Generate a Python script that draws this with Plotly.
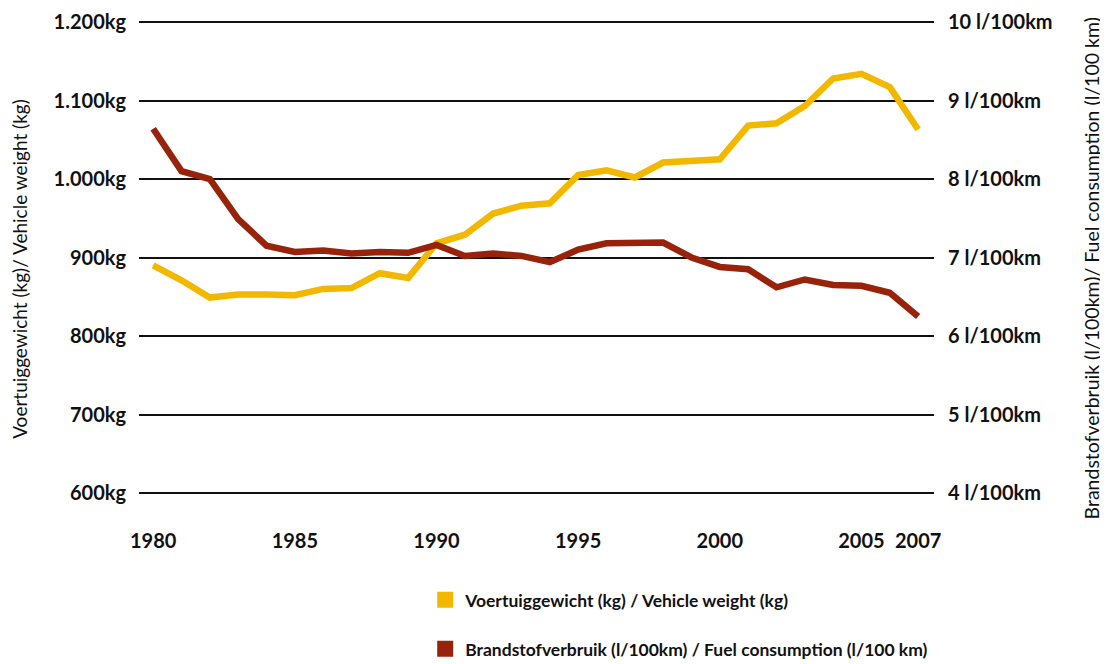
import plotly.graph_objects as go

years = list(range(1980, 2008))
vehicle_weight_kg = [890, 871, 849, 853, 853, 852, 860, 861, 880, 874,
                     918, 929, 956, 966, 969, 1005, 1011, 1002, 1021, 1022,
                     1025, 1068, 1071, 1093, 1128, 1134, 1117, 1063]
fuel_l_per_100km = [8.64, 8.10, 8.00, 7.49, 7.15, 7.07, 7.09, 7.05, 7.07, 7.06,
                    7.16, 7.02, 7.05, 7.02, 6.94, 7.10, 7.18, 7.19, 7.19, 7.00,
                    6.88, 6.85, 6.62, 6.72, 6.65, 6.64, 6.55, 6.25]

x_tickvals = [1980, 1985, 1990, 1995, 2000, 2005, 2007]
kg_tickvals = [600, 700, 800, 900, 1000, 1100, 1200]
kg_ticktext = ["600kg", "700kg", "800kg", "900kg", "1.000kg", "1.100kg", "1.200kg"]
l_tickvals = [4, 5, 6, 7, 8, 9, 10]
l_ticktext = ["4 l/100km", "5 l/100km", "6 l/100km", "7 l/100km", "8 l/100km", "9 l/100km", "10 l/100km"]

name_weight = "Voertuiggewicht (kg) / Vehicle weight (kg)"
name_fuel = "Brandstofverbruik (l/100km) / Fuel consumption (l/100 km)"
ytitle_left = "Voertuiggewicht (kg)/ Vehicle weight (kg)"
ytitle_right = "Brandstofverbruik (l/100km)/ Fuel consumption (l/100 km)"

YELLOW = "#F2B800"
RED = "#98230B"
FONT = "Lato"
INK = "#111111"

fig = go.Figure()
fig.add_trace(go.Scatter(x=years, y=vehicle_weight_kg, mode="lines",
                         line=dict(color=YELLOW, width=6.5), showlegend=False,
                         hoverinfo="x+y"))
fig.add_trace(go.Scatter(x=years, y=fuel_l_per_100km, mode="lines", yaxis="y2",
                         line=dict(color=RED, width=6.5), showlegend=False,
                         hoverinfo="x+y"))
# legend entries (square swatches)
fig.add_trace(go.Scatter(x=[None], y=[None], mode="markers", name=name_weight,
                         marker=dict(symbol="square", size=20, color=YELLOW),
                         legend="legend"))
fig.add_trace(go.Scatter(x=[None], y=[None], mode="markers", name=name_fuel,
                         marker=dict(symbol="square", size=20, color=RED),
                         legend="legend2"))

tickfont = dict(family=FONT, size=20, color=INK, weight="bold")
legfont = dict(family=FONT, size=17.5, color=INK, weight="bold")
titlefont = dict(family=FONT, size=19, color=INK)
titlefont_r = dict(family=FONT, size=19.5, color=INK)

pad_kg = 3.82
fig.update_layout(
    template="none",
    width=1100, height=656,
    margin=dict(l=131, r=174, t=11, b=168, pad=0, autoexpand=False),
    paper_bgcolor="white", plot_bgcolor="white",
    xaxis=dict(range=[1979.5, 2007.56], tickvals=x_tickvals,
               ticktext=[str(v) for v in x_tickvals], showgrid=False,
               zeroline=False, showline=False, ticks="", tickfont=tickfont,
               ticklabelstandoff=31, automargin=False),
    yaxis=dict(range=[600 - pad_kg, 1200 + pad_kg], tickvals=kg_tickvals,
               ticktext=kg_ticktext, showgrid=True, gridcolor=INK, gridwidth=2,
               zeroline=False, showline=False, ticks="", tickfont=tickfont,
               ticklabelstandoff=12, automargin=False),
    yaxis2=dict(range=[4 - pad_kg / 100, 10 + pad_kg / 100], tickvals=l_tickvals,
                ticktext=l_ticktext, overlaying="y", side="right", showgrid=False,
                zeroline=False, showline=False, ticks="", tickfont=tickfont,
                ticklabelstandoff=13, automargin=False),
    legend=dict(x=0.36, y=-0.180, xanchor="left", yanchor="top", font=legfont,
                bgcolor="rgba(0,0,0,0)", borderwidth=0),
    legend2=dict(x=0.36, y=-0.283, xanchor="left", yanchor="top", font=legfont,
                 bgcolor="rgba(0,0,0,0)", borderwidth=0),
    annotations=[
        dict(text=ytitle_left, xref="paper", yref="paper", x=-0.1505, y=0.477,
             xanchor="center", yanchor="middle", textangle=-90, showarrow=False,
             font=titlefont),
        dict(text=ytitle_right, xref="paper", yref="paper", x=1.1987, y=0.477,
             xanchor="center", yanchor="middle", textangle=-90, showarrow=False,
             font=titlefont_r),
    ],
)

fig.write_html("out.html")
